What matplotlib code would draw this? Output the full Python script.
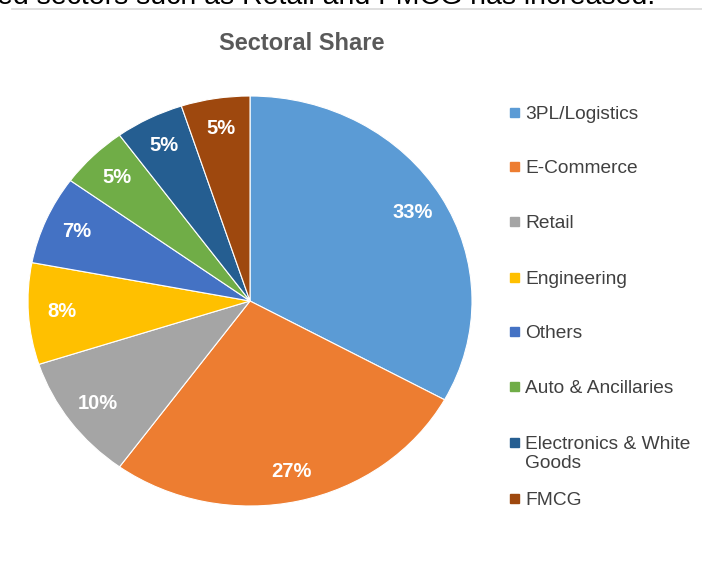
import matplotlib.pyplot as plt
import matplotlib.patches as mpatches
from matplotlib.lines import Line2D

plt.rcParams['font.family'] = ['Liberation Sans', 'DejaVu Sans']

# data
sectors = ['3PL/Logistics', 'E-Commerce', 'Retail', 'Engineering', 'Others',
           'Auto & Ancillaries', 'Electronics & White\nGoods', 'FMCG']
shares = [33, 27, 10, 8, 7, 5, 5, 5]
colors = ['#5B9BD5', '#ED7D31', '#A5A5A5', '#FFC000', '#4472C4',
          '#70AD47', '#255E91', '#9E480E']

W, H = 702, 566
fig = plt.figure(figsize=(W/100, H/100), dpi=100)

# clipped sentence of the page above the chart
fig.text(-0.004, 1 - 4/H, 'ed sectors such as Retail and FMCG has increased.',
         fontsize=20.5, color='black', va='baseline', ha='left')
fig.add_artist(Line2D([12/W, 1], [1 - 9/H, 1 - 9/H], color='#d9d9d9', lw=1.2))

ax = fig.add_axes([28/W, 1 - 506/H, 444/W, 410/H])
wedges, texts, autotexts = ax.pie(shares, colors=colors, startangle=90, counterclock=False,
                                  autopct=lambda p: '%d%%' % round(p), pctdistance=0.85,
                                  wedgeprops=dict(edgecolor='white', linewidth=0.8))
for t in autotexts:
    t.set_color('white')
    t.set_fontweight('bold')
    t.set_fontsize(14.5)
ax.set_aspect('auto')
ax.set_xlim(-1, 1)
ax.set_ylim(-1, 1)

fig.text(302/W, 1 - 43/H, 'Sectoral Share', fontsize=17, fontweight='bold',
         color='#595959', ha='center', va='center')

# legend drawn by hand to keep Excel-like spacing
leg_y = [113, 167, 222, 278, 332, 387, 443, 499]
for name, c, y in zip(sectors, colors, leg_y):
    fig.add_artist(mpatches.Rectangle((510/W, 1 - (y + 4)/H), 9/W, 9/H, color=c,
                                      transform=fig.transFigure))
    fig.text(525/W, 1 - (y - 7)/H, name, fontsize=13.8, color='#404040',
             ha='left', va='top', linespacing=1.15)

fig.savefig('out.png', dpi=100)
